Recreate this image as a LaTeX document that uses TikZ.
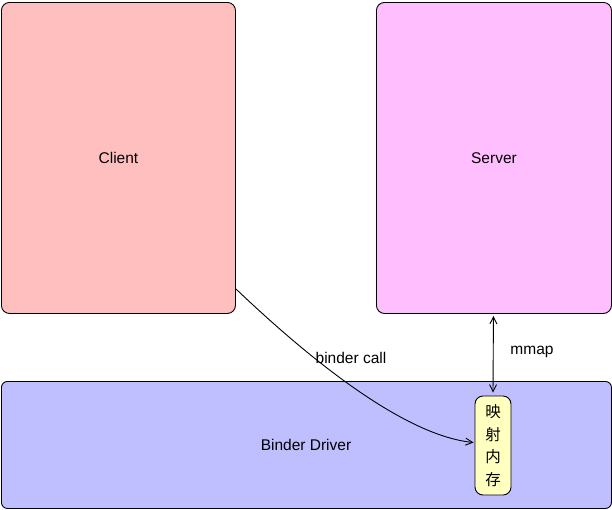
\documentclass[tikz,border=0pt]{standalone}
\usepackage{fontspec}
\setmainfont{Liberation Sans}
\newfontfamily\cjk{Noto Sans CJK SC}
\usetikzlibrary{arrows.meta,positioning,calc}
\definecolor{clientred}{RGB}{255,191,191}
\definecolor{serverpink}{RGB}{255,191,255}
\definecolor{driverblue}{RGB}{191,191,255}
\definecolor{memyellow}{RGB}{255,255,192}

\tikzset{
  box/.style={draw=black, line width=0.9pt, rounded corners=8pt, anchor=north west,
    font=\fontsize{15.5}{18}\selectfont, inner sep=0pt},
  lbl/.style={font=\fontsize{15.5}{18}\selectfont},
  link/.style={line width=0.9pt, -{Straight Barb[length=7pt,width=7pt]}},
  twoway/.style={line width=0.9pt, {Straight Barb[length=7pt,width=7pt]}-{Straight Barb[length=7pt,width=7pt]}}
}

\begin{document}
\begin{tikzpicture}[x=1pt, y=-1pt]
\useasboundingbox (0,0) rectangle (612,509);
% process boxes
\node[box, fill=clientred, minimum width=234pt, minimum height=311pt] (cli) at (1,2) {Client};
\node[box, fill=serverpink, minimum width=235pt, minimum height=311pt] (srv) at (376,2) {Server};
% driver
\node[box, fill=driverblue, rounded corners=6pt, minimum width=610pt, minimum height=127pt] (drv) at (1,381) {};
\node[lbl] (drvtext) at (306,445) {Binder Driver};
% mapped memory
\node[box, fill=memyellow, anchor=center, minimum width=36pt, minimum height=99pt,
  align=center, font=\cjk\fontsize{15.5}{22.5}\selectfont] (mem) at (493,445.5) {映\\射\\内\\存};
% connectors
\draw[twoway] ($(srv.south)+(-0.5,2)$) coordinate (mtop) -- ($(mem.north)+(0,-3)$) coordinate (mbot);
\node[lbl] (mmaplbl) at (532,352) {mmap};
\coordinate (callstart) at ($(cli.south east)+(0,-25)$);
\draw[link] (callstart) .. controls (300,350) and (400,435) .. ($(mem.west)+(-1,-3)$);
\node[lbl] (calllbl) at (351,358) {binder call};
\end{tikzpicture}
\end{document}
